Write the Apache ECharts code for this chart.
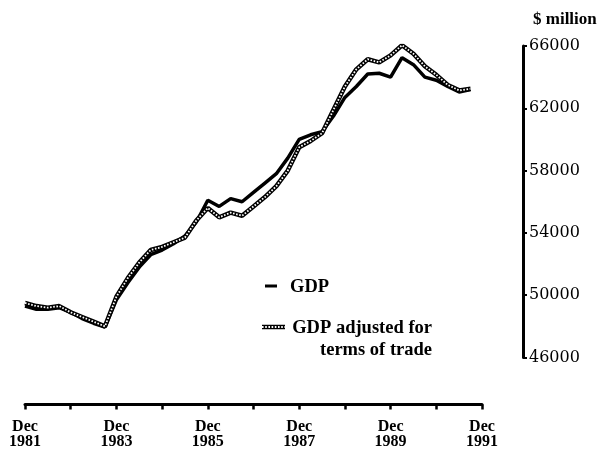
<!DOCTYPE html>
<html>
<head>
<meta charset="utf-8">
<script src="https://cdn.jsdelivr.net/npm/echarts@6/dist/echarts.min.js"></script>
<style>
html,body{margin:0;padding:0;background:#fff;}
#chart{width:600px;height:450px;}
</style>
</head>
<body>
<div id="chart"></div>
<script>
// Quarter labels, Dec 1981 .. Dec 1991
const quarters = [
  'Dec 1981','Mar 1982','Jun 1982','Sep 1982','Dec 1982','Mar 1983','Jun 1983','Sep 1983',
  'Dec 1983','Mar 1984','Jun 1984','Sep 1984','Dec 1984','Mar 1985','Jun 1985','Sep 1985',
  'Dec 1985','Mar 1986','Jun 1986','Sep 1986','Dec 1986','Mar 1987','Jun 1987','Sep 1987',
  'Dec 1987','Mar 1988','Jun 1988','Sep 1988','Dec 1988','Mar 1989','Jun 1989','Sep 1989',
  'Dec 1989','Mar 1990','Jun 1990','Sep 1990','Dec 1990','Mar 1991','Jun 1991','Sep 1991',
  'Dec 1991'
];

// $ million
const gdp = [
  49300, 49100, 49100, 49200, 48900, 48500, 48200, 47950,
  49700, 50800, 51800, 52600, 52900, 53300, 53800, 54700,
  56100, 55700, 56200, 56000, 56600, 57200, 57800, 58800,
  60000, 60300, 60500, 61500, 62700, 63400, 64200, 64250,
  64000, 65250, 64800, 64000, 63800, 63400, 63050, 63200
];

const gdpAdjusted = [
  49500, 49300, 49200, 49300, 48900, 48600, 48300, 48000,
  49900, 51100, 52100, 52900, 53100, 53400, 53700, 54800,
  55600, 55000, 55300, 55100, 55700, 56300, 57000, 58000,
  59500, 59900, 60400, 61900, 63400, 64500, 65150, 64950,
  65400, 66050, 65500, 64700, 64150, 63500, 63150, 63250
];

const yMin = 46000, yMax = 66000, yStep = 4000;

const serif = '"Liberation Serif", "Times New Roman", serif';

const chart = echarts.init(document.getElementById('chart'), null, {renderer: 'canvas'});
chart.setOption({
  animation: false,
  backgroundColor: '#fff',
  grid: {left: 25, right: 118, top: 46, bottom: 92, containLabel: false},
  xAxis: {
    type: 'category',
    data: quarters,
    boundaryGap: false,
    offset: 47,
    axisLine: {show: true, lineStyle: {color: '#000', width: 3}},
    axisTick: {show: true, interval: 3, length: 5, lineStyle: {color: '#000', width: 2.5}},
    axisLabel: {
      interval: 7,
      margin: 15,
      formatter: v => v.replace(' ', '\n'),
      fontFamily: serif,
      fontWeight: 'bold',
      fontSize: 16,
      lineHeight: 15,
      color: '#000'
    },
    splitLine: {show: false}
  },
  yAxis: {
    type: 'value',
    position: 'right',
    offset: 41,
    min: yMin,
    max: yMax,
    interval: yStep,
    axisLine: {show: true, lineStyle: {color: '#000', width: 3}},
    axisTick: {show: true, length: 4, lineStyle: {color: '#000', width: 2}},
    axisLabel: {margin: 6, formatter: v => String(v), fontFamily: '"DejaVu Serif", serif', fontSize: 16, color: '#000'},
    splitLine: {show: false},
    name: '$ million',
    nameLocation: 'end',
    nameGap: 18,
    nameTextStyle: {
      fontFamily: serif, fontWeight: 'bold', fontSize: 17, color: '#000',
      align: 'left', padding: [0, 0, 0, 10]
    }
  },
  series: [
    {
      name: 'GDP',
      type: 'line',
      data: gdp,
      symbol: 'none',
      lineStyle: {color: '#000', width: 3.5},
      z: 2
    },
    {
      name: 'GDP adjusted for terms of trade',
      type: 'line',
      data: gdpAdjusted,
      symbol: 'none',
      lineStyle: {color: '#000', width: 4.5},
      z: 3
    },
    {
      name: 'GDP adjusted for terms of trade (pattern)',
      type: 'line',
      data: gdpAdjusted,
      symbol: 'none',
      lineStyle: {color: '#fff', width: 1.8, type: [1.6, 1.6]},
      z: 4,
      silent: true
    }
  ],
  graphic: [
    {type: 'line', shape: {x1: 265, y1: 286, x2: 277, y2: 286}, style: {stroke: '#000', lineWidth: 3}},
    {type: 'text', x: 290, y: 287, style: {text: 'GDP', font: 'bold 18.5px ' + serif, fill: '#000', verticalAlign: 'middle'}},
    {type: 'line', shape: {x1: 262, y1: 327, x2: 285, y2: 327}, style: {stroke: '#000', lineWidth: 4.5}},
    {type: 'line', shape: {x1: 262, y1: 327, x2: 285, y2: 327}, style: {stroke: '#fff', lineWidth: 1.8, lineDash: [1.6, 1.6]}},
    {type: 'text', x: 432, y: 317, style: {text: 'GDP adjusted for\nterms of trade', font: 'bold 18.5px ' + serif, fill: '#000', align: 'right', verticalAlign: 'top', lineHeight: 22}}
  ]
});
</script>
</body>
</html>
